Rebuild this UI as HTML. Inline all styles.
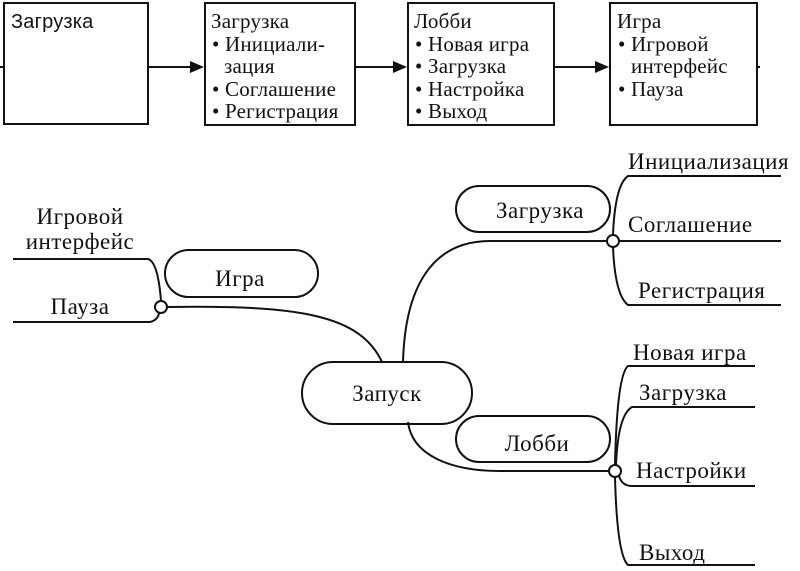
<!DOCTYPE html>
<html><head><meta charset="utf-8"><style>
html,body{margin:0;padding:0;background:#fff;}
svg{display:block;}
text{font-family:"Liberation Serif","DejaVu Serif",serif;fill:#111;}
</style></head><body>
<svg width="800" height="571" viewBox="0 0 800 571" xmlns="http://www.w3.org/2000/svg">
<g fill="none" stroke="#111" stroke-width="2">
<rect x="4" y="3" width="144" height="121"/>
<rect x="205" y="3" width="150" height="122"/>
<rect x="408" y="3" width="146" height="122"/>
<rect x="610" y="3" width="147" height="122"/>
<line x1="0" y1="67" x2="4" y2="67"/>
<line x1="148" y1="67" x2="192" y2="67"/>
<line x1="355" y1="67" x2="395" y2="67"/>
<line x1="554" y1="67" x2="597" y2="67"/>
<line x1="757" y1="67" x2="760" y2="67"/>
</g>
<g fill="#111">
<polygon points="190,61 204,67 190,73"/>
<polygon points="393,61 407,67 393,73"/>
<polygon points="595,61 609,67 595,73"/>
</g>
<g font-size="21" letter-spacing="0.2">
<text x="11" y="28" style="font-family:'Liberation Sans',sans-serif" font-size="20">Загрузка</text>
<text x="211" y="28">Загрузка</text>
<text x="212" y="51">• Инициали-</text>
<text x="224" y="73">зация</text>
<text x="212" y="96">• Соглашение</text>
<text x="212" y="118">• Регистрация</text>
<text x="414" y="28">Лобби</text>
<text x="415" y="51">• Новая игра</text>
<text x="415" y="73">• Загрузка</text>
<text x="415" y="96">• Настройка</text>
<text x="415" y="118">• Выход</text>
<text x="617" y="28">Игра</text>
<text x="618" y="51">• Игровой</text>
<text x="631" y="73">интерфейс</text>
<text x="618" y="96">• Пауза</text>
</g>

<g fill="none" stroke="#111" stroke-width="2">
<rect x="302" y="362" width="170" height="62" rx="31"/>
<rect x="165" y="250" width="153" height="47" rx="23.5"/>
<rect x="456" y="186" width="154" height="46" rx="23"/>
<rect x="456" y="416" width="154" height="46" rx="23"/>
<path d="M167,307 C300,305 360,315 382,362"/>
<path d="M13,259 L148,259 Q158,262 161,301"/>
<path d="M13,322 L150,322 Q158,320 159,313"/>
<path d="M403,362 C405,290 430,241 490,241 L607,241"/>
<path d="M619,241 L781,241"/>
<path d="M613,235 Q615,185 628,176 L781,176"/>
<path d="M613,247 Q615,295 628,305 L781,305"/>
<path d="M408,422 C412,455 450,471 500,471 L609,471"/>
<path d="M615,465 Q617,375 628,366 L755,366"/>
<path d="M616,465 Q618,415 632,407 L755,407"/>
<path d="M619,476 Q622,486 632,486 L755,486"/>
<path d="M615,477 Q617,555 628,565 L755,565"/>
</g>
<g fill="#fff" stroke="#111" stroke-width="2">
<circle cx="161" cy="307" r="6"/>
<circle cx="613" cy="241" r="6"/>
<circle cx="615" cy="471" r="6"/>
</g>
<g font-size="23" letter-spacing="0.5">
<text x="387" y="401" text-anchor="middle">Запуск</text>
<text x="240" y="286" text-anchor="middle">Игра</text>
<text x="540" y="218" text-anchor="middle">Загрузка</text>
<text x="537" y="451" text-anchor="middle">Лобби</text>
<text x="80" y="224" text-anchor="middle">Игровой</text>
<text x="80" y="249" text-anchor="middle">интерфейс</text>
<text x="80" y="314" text-anchor="middle">Пауза</text>
<text x="628" y="169">Инициализация</text>
<text x="628" y="232">Соглашение</text>
<text x="638" y="298">Регистрация</text>
<text x="633" y="360">Новая игра</text>
<text x="639" y="400">Загрузка</text>
<text x="636" y="478">Настройки</text>
<text x="639" y="560">Выход</text>
</g>
</svg>
</body></html>
